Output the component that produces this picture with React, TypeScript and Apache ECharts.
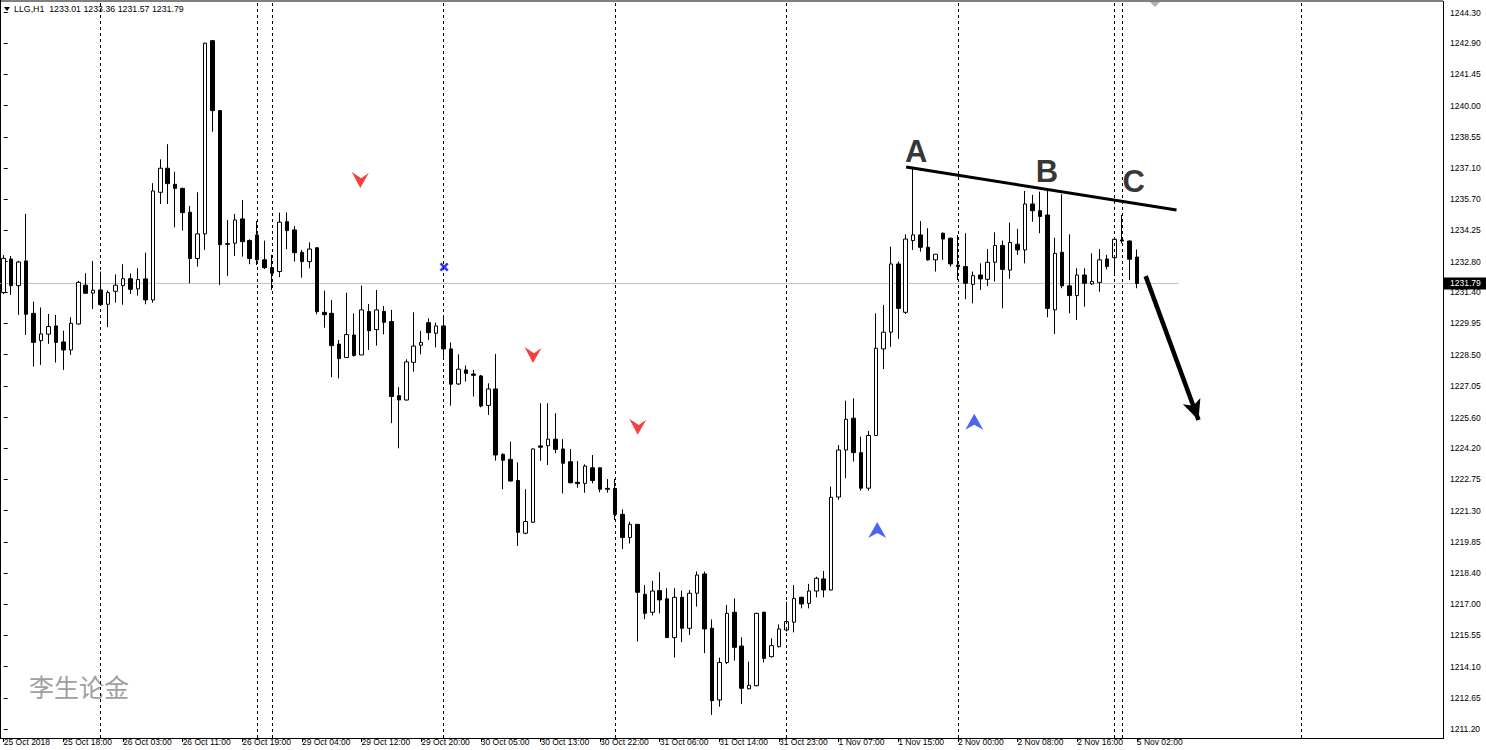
import React, { useEffect, useRef } from "react";
import * as echarts from "echarts";

const symbolName = "LLG,H1";

const opens = [
  1231.37, 1232.92, 1231.69, 1232.83, 1230.41, 1229.15, 1229.45, 1229.83, 1229.09, 1228.72,
  1229.92, 1231.71, 1231.35, 1231.49, 1230.83, 1231.43, 1231.69, 1232.01, 1231.54, 1232.0,
  1231.03, 1236.0, 1237.11, 1236.37, 1236.18, 1235.08, 1232.94, 1234.08, 1243.0, 1239.77,
  1233.63, 1233.65, 1234.77, 1233.77, 1234.03, 1232.88, 1232.52, 1232.34, 1234.64, 1234.26,
  1233.23, 1232.8, 1233.44, 1230.46, 1230.41, 1228.99, 1228.37, 1229.41, 1228.49, 1230.49,
  1229.66, 1230.5, 1230.03, 1226.61, 1226.41, 1228.15, 1228.94, 1229.98, 1229.49, 1229.83,
  1228.77, 1227.15, 1227.8, 1227.61, 1227.52, 1226.16, 1226.92, 1223.9, 1223.67, 1222.69,
  1220.26, 1220.77, 1224.29, 1224.3, 1224.6, 1224.15, 1223.56, 1222.61, 1222.56, 1223.28,
  1223.28, 1222.33, 1222.33, 1221.13, 1220.06, 1220.67, 1217.44, 1216.61, 1217.61, 1217.23,
  1215.44, 1217.3, 1215.87, 1217.49, 1218.38, 1215.87, 1212.56, 1214.29, 1216.61, 1215.05,
  1213.08, 1213.22, 1216.61, 1214.56, 1215.02, 1215.79, 1216.15, 1217.3, 1217.02, 1217.59,
  1218.15, 1217.64, 1221.93, 1224.1, 1225.57, 1223.98, 1222.34, 1224.77, 1228.77, 1229.54,
  1232.69, 1230.46, 1233.77, 1234.03, 1233.46, 1232.88, 1234.11, 1233.88, 1232.64, 1232.57,
  1231.75, 1232.18, 1231.98, 1232.77, 1233.54, 1232.41, 1233.6, 1233.34, 1235.46, 1235.15,
  1234.95, 1230.57, 1233.23, 1231.68, 1231.23, 1232.18, 1231.77, 1231.84, 1232.92, 1232.98,
  1233.8, 1233.75, 1233.01,
];
const highs = [
  1233.1, 1233.06, 1232.84, 1235.0, 1230.95, 1230.68, 1230.38, 1230.34, 1229.61, 1230.23,
  1231.91, 1232.26, 1232.83, 1232.34, 1231.46, 1232.21, 1232.68, 1232.25, 1232.49, 1233.21,
  1236.42, 1237.52, 1238.22, 1236.95, 1236.21, 1235.37, 1236.0, 1242.91, 1243.03, 1239.8,
  1234.72, 1235.0, 1235.64, 1233.83, 1234.68, 1233.77, 1233.11, 1235.06, 1235.07, 1234.44,
  1233.34, 1233.69, 1233.47, 1231.46, 1231.03, 1229.18, 1231.37, 1230.41, 1231.69, 1230.84,
  1231.49, 1230.75, 1230.57, 1227.0, 1228.29, 1230.46, 1229.6, 1230.18, 1229.98, 1230.29,
  1229.07, 1228.52, 1228.0, 1227.8, 1227.57, 1227.18, 1228.54, 1223.95, 1224.49, 1223.53,
  1222.29, 1224.18, 1226.26, 1226.26, 1225.8, 1224.6, 1224.15, 1223.59, 1223.44, 1223.87,
  1223.3, 1222.76, 1222.76, 1221.36, 1220.79, 1220.67, 1217.87, 1218.06, 1218.46, 1217.72,
  1217.72, 1217.61, 1217.64, 1218.49, 1218.49, 1216.28, 1214.52, 1216.95, 1217.25, 1215.45,
  1214.33, 1216.59, 1216.64, 1215.41, 1216.05, 1217.1, 1217.87, 1217.33, 1217.92, 1218.25,
  1218.52, 1222.41, 1224.33, 1226.38, 1226.49, 1224.72, 1224.98, 1230.41, 1230.8, 1233.49,
  1232.8, 1234.06, 1237.15, 1234.67, 1234.34, 1233.14, 1234.14, 1233.91, 1234.03, 1234.11,
  1232.34, 1232.72, 1233.38, 1234.15, 1233.77, 1234.6, 1234.31, 1236.06, 1235.88, 1236.03,
  1236.11, 1233.9, 1235.91, 1234.06, 1232.49, 1232.49, 1233.18, 1233.38, 1233.11, 1233.83,
  1234.95, 1233.78, 1233.36,
];
const lows = [
  1231.3, 1231.26, 1230.34, 1229.41, 1227.95, 1228.03, 1229.0, 1228.14, 1227.8, 1228.49,
  1229.89, 1231.31, 1230.61, 1230.78, 1229.77, 1230.91, 1230.81, 1231.31, 1231.23, 1230.83,
  1230.9, 1235.46, 1235.46, 1234.38, 1234.23, 1231.8, 1232.57, 1233.34, 1238.8, 1231.72,
  1232.14, 1233.06, 1233.03, 1232.68, 1232.64, 1232.46, 1231.49, 1232.08, 1233.37, 1232.8,
  1232.06, 1232.49, 1230.37, 1229.75, 1227.46, 1227.41, 1228.35, 1228.41, 1228.49, 1228.72,
  1228.92, 1229.44, 1225.34, 1224.18, 1226.38, 1227.72, 1228.52, 1229.18, 1228.84, 1228.41,
  1226.15, 1227.1, 1227.26, 1226.57, 1226.07, 1225.72, 1223.61, 1222.29, 1222.64, 1219.67,
  1220.21, 1220.73, 1223.6, 1223.41, 1223.95, 1222.1, 1222.56, 1222.36, 1222.13, 1222.56,
  1222.15, 1222.13, 1220.87, 1219.53, 1219.79, 1215.26, 1216.29, 1216.46, 1216.56, 1215.44,
  1214.52, 1215.23, 1215.56, 1216.87, 1214.72, 1211.87, 1212.25, 1214.22, 1214.38, 1212.38,
  1213.05, 1213.19, 1214.29, 1214.52, 1214.99, 1215.72, 1215.68, 1216.79, 1216.79, 1217.3,
  1217.3, 1217.61, 1221.8, 1222.8, 1223.57, 1222.23, 1222.23, 1224.77, 1227.84, 1228.87,
  1229.23, 1230.38, 1233.34, 1233.26, 1232.84, 1232.34, 1232.88, 1232.57, 1231.95, 1231.06,
  1230.87, 1231.49, 1231.67, 1231.88, 1230.64, 1232.0, 1233.11, 1232.72, 1234.64, 1234.11,
  1230.23, 1229.46, 1231.57, 1230.41, 1230.1, 1230.72, 1231.72, 1231.41, 1232.44, 1232.26,
  1233.64, 1231.95, 1231.57,
];
const closes = [
  1232.95, 1231.69, 1232.78, 1230.37, 1229.07, 1229.46, 1229.8, 1229.07, 1228.72, 1229.95,
  1231.84, 1231.34, 1231.48, 1230.81, 1231.37, 1231.71, 1232.01, 1231.52, 1231.97, 1231.03,
  1236.06, 1237.11, 1236.4, 1236.18, 1235.06, 1232.94, 1234.08, 1242.88, 1239.77, 1233.58,
  1233.6, 1234.72, 1233.72, 1232.94, 1232.88, 1232.52, 1232.26, 1234.62, 1234.23, 1233.21,
  1232.8, 1233.38, 1230.49, 1230.35, 1228.92, 1228.32, 1229.43, 1228.47, 1230.57, 1229.61,
  1230.57, 1230.0, 1226.57, 1226.41, 1228.17, 1228.9, 1229.07, 1229.52, 1229.83, 1228.77,
  1227.14, 1227.83, 1227.64, 1227.55, 1226.13, 1226.92, 1223.87, 1223.63, 1222.67, 1220.3,
  1220.8, 1224.15, 1224.23, 1224.6, 1224.13, 1223.49, 1222.59, 1222.55, 1223.36, 1222.69,
  1222.29, 1222.29, 1221.13, 1220.06, 1220.67, 1217.53, 1216.56, 1217.59, 1217.18, 1215.44,
  1217.3, 1215.87, 1217.49, 1218.33, 1215.84, 1212.53, 1214.29, 1216.56, 1214.99, 1213.1,
  1213.24, 1216.56, 1214.48, 1215.07, 1215.84, 1216.18, 1217.25, 1216.99, 1217.59, 1218.18,
  1217.64, 1221.92, 1224.1, 1225.52, 1223.98, 1222.34, 1224.77, 1228.8, 1229.54, 1232.69,
  1230.64, 1233.84, 1234.03, 1233.46, 1232.88, 1233.14, 1233.84, 1232.69, 1232.57, 1231.8,
  1232.15, 1232.0, 1232.77, 1233.54, 1232.44, 1233.68, 1233.34, 1235.46, 1235.15, 1234.88,
  1230.64, 1233.18, 1231.68, 1231.23, 1232.18, 1231.8, 1231.88, 1232.88, 1232.57, 1233.83,
  1233.75, 1232.91, 1231.79,
];

const categoryCount = 194;
const tickIndex = [0, 8, 16, 24, 32, 40, 48, 56, 64, 72, 80, 88, 96, 104, 112, 120, 128, 136, 144, 152];
const tickLabels = [
  "25 Oct 2018", "25 Oct 18:00", "26 Oct 03:00", "26 Oct 11:00", "26 Oct 19:00", "29 Oct 04:00",
  "29 Oct 12:00", "29 Oct 20:00", "30 Oct 05:00", "30 Oct 13:00", "30 Oct 22:00", "31 Oct 06:00",
  "31 Oct 14:00", "31 Oct 23:00", "1 Nov 07:00", "1 Nov 15:00", "2 Nov 00:00", "2 Nov 08:00",
  "2 Nov 16:00", "5 Nov 02:00",
];
const priceTicks = [
  1211.2, 1212.65, 1214.1, 1215.55, 1217.0, 1218.4, 1219.85, 1221.3, 1222.75, 1224.2, 1225.6,
  1227.05, 1228.5, 1229.95, 1231.4, 1232.8, 1234.25, 1235.7, 1237.1, 1238.55, 1240.0, 1241.45,
  1242.9, 1244.3,
];
const separatorBars = [13, 34, 36, 59, 82, 105, 128, 149, 150, 174];
const sellArrows = [[47.83, 1236.57], [71.0, 1228.49], [85.05, 1225.18]];
const buyArrows = [[117.18, 1220.41], [130.2, 1225.41]];
const crossMarks = [[59.08, 1232.55]];
const trendLine = [[121.06, 1237.17], [157.33, 1235.18]];
const bigArrow = [[153.19, 1232.13], [160.28, 1225.49]];
const letters = [[122.4, 1237.86, "A"], [139.93, 1236.94, "B"], [151.58, 1236.52, "C"]];
const faintMarks = [[174.2, 1242.4], [174.2, 1239.6], [174.2, 1238.3], [174.2, 1236.95], [174.2, 1235.8], [174.2, 1228.1]];
const priceLineEnd = 157.6;
const watermark = "李生论金";

const FONT = '"Liberation Sans", Arial, sans-serif';

export default function App() {
  const ref = useRef<HTMLDivElement>(null);
  useEffect(() => {
    if (!ref.current) return;
    const chart = echarts.init(ref.current, null, { renderer: "svg" });
    const categories = Array.from({ length: categoryCount }, (_, i) => String(i));
    const candles = opens.map((o, i) => [o, closes[i], lows[i], highs[i]]);
    const last = closes[closes.length - 1];
    const labelMap: Record<number, string> = {};
    tickIndex.forEach((t, i) => (labelMap[t] = tickLabels[i]));
    const isTick = (idx: number) => labelMap[idx] !== undefined;

    const option: any = {
      animation: false,
      backgroundColor: "#ffffff",
      grid: { left: -3.03, top: 1, width: categoryCount * 7.47, height: 737, show: false },
      xAxis: [
        {
          type: "category",
          data: categories,
          boundaryGap: true,
          axisLine: { show: false },
          axisTick: { show: true, interval: (i: number) => isTick(i), alignWithLabel: true, length: 4, lineStyle: { color: "#000" } },
          axisLabel: {
            show: true,
            interval: (i: number) => isTick(i),
            formatter: (_v: string, i: number) => labelMap[i] || "",
            align: "left",
            margin: -1,
            fontSize: 8.5,
            fontFamily: FONT,
            color: "#000",
          },
          splitLine: { show: false },
        },
        { type: "value", min: -0.5, max: categoryCount - 0.5, show: false },
      ],
      yAxis: [
        {
          type: "value",
          position: "right",
          offset: -3.15,
          min: 1210.805,
          max: 1244.831,
          scale: true,
          axisLine: { show: false },
          axisTick: { show: true, customValues: priceTicks, length: 4, lineStyle: { color: "#000" } },
          axisLabel: {
            show: true,
            customValues: priceTicks,
            formatter: (v: number) => v.toFixed(2),
            fontSize: 8.5,
            fontFamily: FONT,
            color: "#000",
            margin: 7,
          },
          splitLine: { show: false },
        },
      ],
      series: [
        {
          type: "line",
          xAxisIndex: 1,
          data: [],
          silent: true,
          z: 1,
          markLine: {
            symbol: ["none", "none"],
            silent: true,
            label: { show: false },
            lineStyle: { color: "#000", type: [3, 3], width: 1 },
            data: separatorBars.map((b) => ({ xAxis: b })),
          },
        },
        {
          type: "line",
          xAxisIndex: 1,
          data: [[-0.6, last], [priceLineEnd, last]],
          symbol: "none",
          silent: true,
          z: 2,
          lineStyle: { color: "#c0c0c0", width: 1 },
        },
        {
          type: "candlestick",
          xAxisIndex: 0,
          data: candles,
          barWidth: 4,
          z: 3,
          itemStyle: { color: "#ffffff", color0: "#000000", borderColor: "#000000", borderColor0: "#000000", borderWidth: 1 },
        },
        {
          type: "line",
          xAxisIndex: 1,
          data: trendLine,
          symbol: "none",
          z: 5,
          lineStyle: { color: "#000", width: 3 },
        },
        {
          type: "line",
          xAxisIndex: 1,
          data: [],
          z: 5,
          markLine: {
            silent: true,
            symbol: ["none", "arrow"],
            symbolSize: [14, 20],
            label: { show: false },
            lineStyle: { color: "#000", width: 4.5, type: "solid" },
            data: [[{ coord: bigArrow[0] }, { coord: bigArrow[1] }]],
          },
        },
        {
          type: "scatter",
          xAxisIndex: 1,
          data: letters,
          symbolSize: 1,
          itemStyle: { color: "transparent" },
          z: 6,
          label: {
            show: true,
            position: "inside",
            formatter: (p: any) => p.value[2],
            fontSize: 31,
            fontWeight: "bold",
            fontFamily: FONT,
            color: "#000",
          },
        },
        {
          type: "scatter",
          xAxisIndex: 1,
          data: sellArrows,
          symbol: "path://M0,0 L9,6 L16,1 L8,15 Z",
          symbolSize: [17, 16],
          itemStyle: { color: "#f01010" },
          z: 6,
        },
        {
          type: "scatter",
          xAxisIndex: 1,
          data: buyArrows,
          symbol: "path://M9,0 L18,16 L9,11 L0,16 Z",
          symbolSize: [18, 16],
          itemStyle: { color: "#1f3cf0" },
          z: 6,
        },
        {
          type: "scatter",
          xAxisIndex: 1,
          data: crossMarks,
          symbol: "path://M0,2 L2,0 L5,3 L8,0 L10,2 L7,5 L10,8 L8,10 L5,7 L2,10 L0,8 L3,5 Z",
          symbolSize: 9,
          itemStyle: { color: "#0000ff" },
          z: 6,
        },
        {
          type: "scatter",
          xAxisIndex: 1,
          data: faintMarks,
          symbol: "rect",
          symbolSize: [1.5, 3],
          itemStyle: { color: "#b8b8b8" },
          silent: true,
          z: 4,
        },
      ],
    };
    chart.setOption(option);

    const py = chart.convertToPixel({ yAxisIndex: 0 }, last) as number;
    const header = `${symbolName}  ${opens[opens.length - 1].toFixed(2)} ${highs[highs.length - 1].toFixed(2)} ${lows[lows.length - 1].toFixed(2)} ${last.toFixed(2)}`;
    chart.setOption({
      graphic: [
        { type: "line", shape: { x1: 0.5, y1: 0, x2: 0.5, y2: 738 }, style: { stroke: "#000", lineWidth: 1 }, silent: true },
        { type: "line", shape: { x1: 0, y1: 1, x2: 1443, y2: 1 }, style: { stroke: "#000", lineWidth: 1 }, silent: true },
        { type: "line", shape: { x1: 1443.5, y1: 1, x2: 1443.5, y2: 738 }, style: { stroke: "#000", lineWidth: 1 }, silent: true },
        { type: "line", shape: { x1: 0, y1: 738.5, x2: 1444, y2: 738.5 }, style: { stroke: "#000", lineWidth: 1 }, silent: true },
        { type: "polygon", shape: { points: [[4, 7], [10, 7], [7, 11]] }, style: { fill: "#000" }, silent: true },
        { type: "text", x: 14, y: 4, style: { text: header, fontSize: 8.8, fontFamily: FONT, fill: "#000" }, silent: true },
        { type: "polygon", shape: { points: [[1150, 2], [1160, 2], [1155, 7]] }, style: { fill: "#b0b0b0" }, silent: true },
        { type: "text", x: 29, y: 673, style: { text: watermark, fontSize: 25, fontFamily: '"Noto Sans CJK SC", sans-serif', fill: "#a0a0a0" }, silent: true },
        { type: "rect", shape: { x: 1444, y: py - 6, width: 42, height: 12 }, style: { fill: "#000" }, silent: true, z: 100 },
        { type: "text", x: 1450, y: py, style: { text: last.toFixed(2), fontSize: 8.5, fontFamily: FONT, fill: "#fff", verticalAlign: "middle" }, silent: true, z: 101 },
      ],
    });

    return () => chart.dispose();
  }, []);
  return (
    <div
      ref={ref}
      style={{ position: "fixed", left: 0, top: 0, width: 1486, height: 750, background: "#fff" }}
    />
  );
}
